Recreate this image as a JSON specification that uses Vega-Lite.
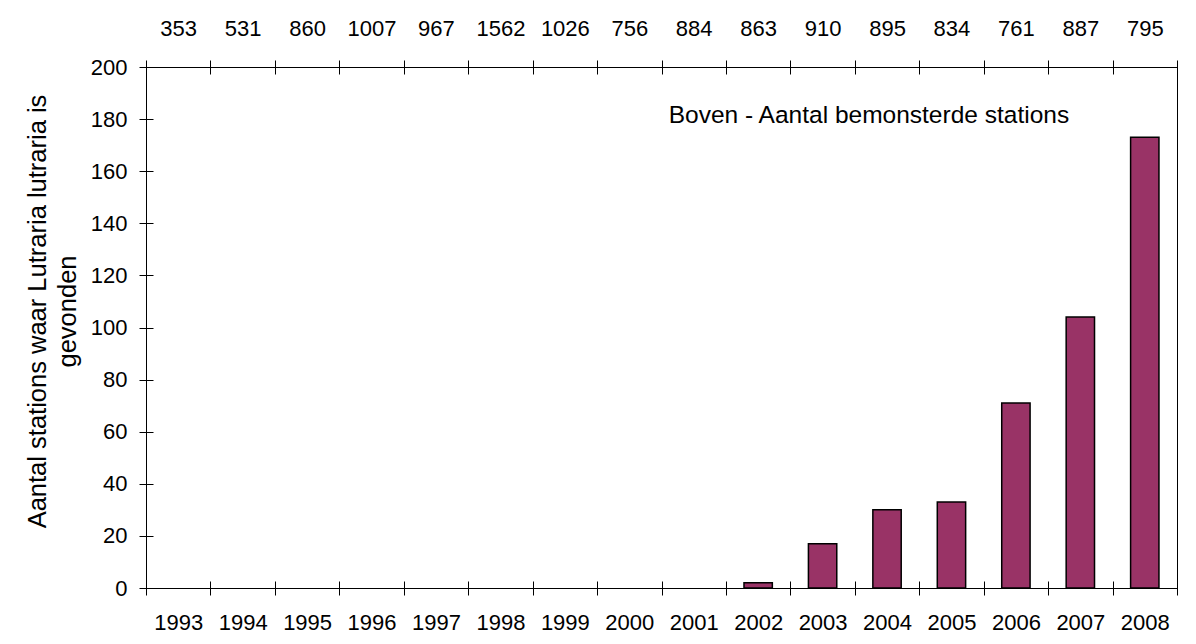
{
  "$schema": "https://vega.github.io/schema/vega-lite/v6.json",
  "width": 1031,
  "height": 521,
  "autosize": {"type": "none"},
  "padding": {"left": 146, "top": 67, "right": 19, "bottom": 56},
  "background": "white",
  "config": {
    "view": {"stroke": "#000", "strokeWidth": 1},
    "font": "Liberation Sans",
    "axis": {
      "labelFont": "Liberation Sans",
      "labelFontSize": 22,
      "labelColor": "#000",
      "tickColor": "#000",
      "tickWidth": 1,
      "titleFont": "Liberation Sans",
      "titleColor": "#000",
      "grid": false,
      "domain": false,
      "tickSize": 14,
      "offset": -7
    }
  },
  "data": {
    "values": [
      {"year": "1993", "stations": "353", "found": 0},
      {"year": "1994", "stations": "531", "found": 0},
      {"year": "1995", "stations": "860", "found": 0},
      {"year": "1996", "stations": "1007", "found": 0},
      {"year": "1997", "stations": "967", "found": 0},
      {"year": "1998", "stations": "1562", "found": 0},
      {"year": "1999", "stations": "1026", "found": 0},
      {"year": "2000", "stations": "756", "found": 0},
      {"year": "2001", "stations": "884", "found": 0},
      {"year": "2002", "stations": "863", "found": 2},
      {"year": "2003", "stations": "910", "found": 17},
      {"year": "2004", "stations": "895", "found": 30},
      {"year": "2005", "stations": "834", "found": 33},
      {"year": "2006", "stations": "761", "found": 71},
      {"year": "2007", "stations": "887", "found": 104},
      {"year": "2008", "stations": "795", "found": 173}
    ]
  },
  "layer": [
    {
      "layer": [
        {
          "mark": {"type": "bar", "fill": "#993366", "stroke": "#000", "width": {"band": 0.44}},
          "encoding": {
            "x": {
              "field": "year", "type": "nominal",
              "scale": {"paddingInner": 0, "paddingOuter": 0},
              "axis": {"orient": "bottom", "labelAngle": 0, "tickBand": "extent", "labelPadding": 17, "title": null}
            },
            "y": {
              "field": "found", "type": "quantitative",
              "scale": {"domain": [0, 200], "nice": false},
              "axis": {
                "values": [0, 20, 40, 60, 80, 100, 120, 140, 160, 180, 200],
                "labelPadding": 12,
                "title": ["Aantal stations waar Lutraria lutraria is", "gevonden"],
                "titleFontSize": 25.5,
                "titleFontWeight": "normal",
                "titleLineHeight": 30,
                "titlePadding": 10,
                "titleY": 244
              }
            },
            "strokeWidth": {"condition": {"test": "datum.found > 0", "value": 1.5}, "value": 0}
          }
        },
        {
          "data": {"values": [{"year": "2001", "found": 181, "note": "Boven - Aantal bemonsterde stations"}]},
          "mark": {"type": "text", "align": "left", "baseline": "middle", "dx": -25, "fontSize": 24.5, "font": "Liberation Sans", "color": "#000"},
          "encoding": {
            "x": {"field": "year", "type": "nominal"},
            "y": {"field": "found", "type": "quantitative"},
            "text": {"field": "note"}
          }
        }
      ]
    },
    {
      "mark": {"type": "tick", "opacity": 0},
      "encoding": {
        "x": {
          "field": "stations", "type": "nominal", "sort": null,
          "scale": {"paddingInner": 0, "paddingOuter": 0},
          "axis": {"orient": "top", "labelAngle": 0, "tickBand": "extent", "labelPadding": 20, "title": null}
        }
      }
    }
  ],
  "resolve": {"scale": {"x": "independent"}}
}
